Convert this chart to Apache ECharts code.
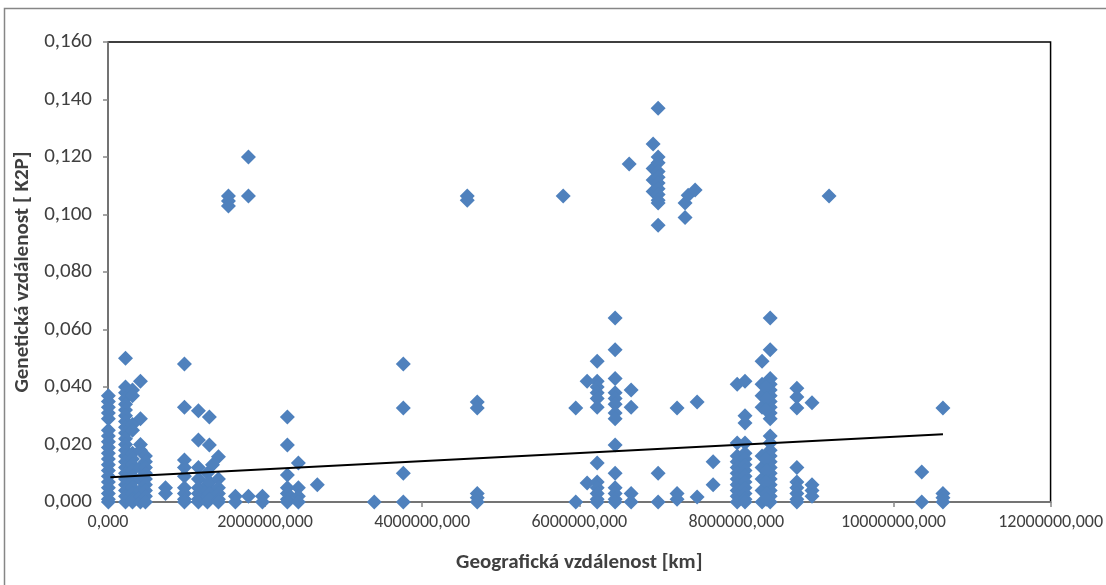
<!DOCTYPE html>
<html>
<head>
<meta charset="utf-8">
<script src="https://cdn.jsdelivr.net/npm/echarts@6/dist/echarts.min.js"></script>
<style>
html,body{margin:0;padding:0;background:#fff;}
#chart{width:1106px;height:585px;}
</style>
</head>
<body>
<div id="chart"></div>
<script>
// Geographic distance (km) of each column of points
const geoKm = [5000, 223000, 312000, 413000, 477000, 732000, 973000, 1151000, 1266000, 1291000,
  1330000, 1406000, 1533000, 1622000, 1788000, 1966000, 2284000, 2424000, 2665000, 3390000,
  3760000, 4574000, 4701000, 5795000, 5955000, 6100000, 6228000, 6456000, 6635000, 6660000,
  6940000, 7004000, 7245000, 7347000, 7386000, 7475000, 7500000, 7704000, 8010000, 8110000,
  8327000, 8430000, 8380000, 8770000, 8963000, 9180000, 10360000, 10630000];
// Genetic distance (K2P) values for the column with the same index
const geneticK2P = [
  [0,0.001,0.003,0.005,0.007,0.009,0.011,0.013,0.015,0.017,0.019,0.021,0.023,0.025,0.029,0.031,0.033,0.035,0.037],
  [0.050,0.040,0.038,0.036,0.034,0.032,0.030,0.028,0.026,0.024,0.022,0.020,0.018,0.016,0.014,0.012,0.010,0.008,0.006,0.004,0.002,0],
  [0.039,0.037,0.027,0.025,0.017,0.015,0.013,0.011,0.009,0.007,0.005,0.003,0.001,0],
  [0.042,0.029,0.020,0.018,0.012,0.008,0.004,0.002,0],
  [0.016,0.014,0.012,0.010,0.008,0.006,0.004,0.002,0],
  [0.005,0.003],
  [0.048,0.033,0.0146,0.012,0.009,0.005,0.003,0.001,0],
  [0.0317,0.0216,0.012,0.008,0.005,0.003,0.001,0],
  [0.010,0.006,0.004,0.002,0],
  [0.0296,0.0198,0.007,0.003,0.001],
  [0.013],
  [0.0157,0.008,0.005,0.003,0.001,0],
  [0.1064,0.1047,0.103],
  [0.002,0],
  [0.120,0.1064,0.002],
  [0.002,0],
  [0.0296,0.0198,0.0094,0.005,0.003,0.001,0],
  [0.0136,0.005,0.002,0],
  [0.006],
  [0],
  [0.048,0.0327,0.010,0],
  [0.1064,0.105],
  [0.0348,0.0327,0.003,0.0015,0],
  [0.1064],
  [0.0327,0],
  [0.042,0.0066],
  [0.049,0.042,0.040,0.038,0.036,0.033,0.0136,0.007,0.005,0.003,0.001,0],
  [0.064,0.053,0.043,0.038,0.036,0.034,0.031,0.029,0.0198,0.010,0.005,0.003,0.001,0],
  [0.1176],
  [0.039,0.033,0.003,0],
  [0.1245,0.116,0.112,0.108],
  [0.137,0.120,0.118,0.115,0.113,0.111,0.109,0.107,0.105,0.104,0.0963,0.010,0],
  [0.0327,0.003,0.001],
  [0.104,0.099],
  [0.1067],
  [0.1085],
  [0.0348,0.0017],
  [0.014,0.006],
  [0.041,0.0205,0.016,0.014,0.012,0.010,0.008,0.006,0.004,0.002,0],
  [0.042,0.030,0.0275,0.0205,0.017,0.015,0.013,0.011,0.009,0.007,0.005,0.003,0.001,0],
  [0.049,0.041,0.037,0.033,0.016,0.012,0.008,0.004,0],
  [0.064,0.053,0.043,0.041,0.039,0.037,0.035,0.033,0.031,0.029,0.023,0.0205,0.018,0.016,0.014,0.012,0.010,0.008,0.006,0.004,0.002,0],
  [0.040,0.036,0.032,0.015,0.011,0.007,0.003,0.001],
  [0.0396,0.0365,0.0327,0.012,0.007,0.005,0.003,0.001,0],
  [0.0345,0.006,0.004,0.002],
  [0.1064],
  [0.0104,0],
  [0.0327,0.003,0.0015,0]
];
// Linear trend line end points
const trendKm = [30000, 10630000];
const trendK2P = [0.0086, 0.0236];
// Axis settings
const xTicks = [0, 2000000, 4000000, 6000000, 8000000, 10000000, 12000000];
const yTicks = [0, 0.02, 0.04, 0.06, 0.08, 0.10, 0.12, 0.14, 0.16];
const xTitle = 'Geografická vzdálenost [km]';
const yTitle = 'Genetická vzdálenost [ K2P]';

const points = [];
geoKm.forEach((x, i) => geneticK2P[i].forEach(y => points.push([x, y])));
const trend = trendKm.map((x, i) => [x, trendK2P[i]]);

const FONT = 'Carlito, "Liberation Sans Narrow", "DejaVu Sans Condensed", sans-serif';
const chart = echarts.init(document.getElementById('chart'), null, {renderer: 'canvas'});
chart.setOption({
  animation: false,
  backgroundColor: '#ffffff',
  graphic: [{
    type: 'rect', silent: true,
    shape: {x: 4.5, y: 8.5, width: 1120, height: 600},
    style: {fill: null, stroke: '#868686', lineWidth: 1.5}
  }],
  grid: {left: 108, right: 54, top: 42, bottom: 83, show: true,
    borderColor: '#000000', borderWidth: 1.5, backgroundColor: 'transparent'},
  xAxis: {
    type: 'value', min: xTicks[0], max: xTicks[xTicks.length - 1], interval: xTicks[1] - xTicks[0],
    name: xTitle, nameLocation: 'middle', nameGap: 50,
    nameTextStyle: {fontFamily: FONT, fontSize: 21, fontWeight: 'bold', color: '#404040', verticalAlign: 'top'},
    axisLine: {show: true, lineStyle: {color: '#868686', width: 1.5}},
    axisTick: {show: true, length: 5, lineStyle: {color: '#868686', width: 1.5}},
    axisLabel: {margin: 11, fontFamily: FONT, fontSize: 18, color: '#404040',
      formatter: v => v.toFixed(3).replace('.', ',')},
    splitLine: {show: false}
  },
  yAxis: {
    type: 'value', min: yTicks[0], max: yTicks[yTicks.length - 1], interval: yTicks[1] - yTicks[0],
    name: yTitle, nameLocation: 'middle', nameGap: 70, nameRotate: 90,
    nameTextStyle: {fontFamily: FONT, fontSize: 21, fontWeight: 'bold', color: '#404040'},
    axisLine: {show: true, lineStyle: {color: '#868686', width: 1.5}},
    axisTick: {show: true, length: 5, lineStyle: {color: '#868686', width: 1.5}},
    axisLabel: {margin: 16, fontFamily: FONT, fontSize: 21, color: '#404040',
      formatter: v => v.toFixed(3).replace('.', ',')},
    splitLine: {show: false}
  },
  series: [{
    type: 'scatter', data: points, symbol: 'diamond', symbolSize: 15,
    itemStyle: {color: '#4F81BD', opacity: 1}, z: 2
  }, {
    type: 'line', data: trend, symbol: 'none', z: 3,
    lineStyle: {color: '#000000', width: 2}
  }]
});
</script>
</body>
</html>
